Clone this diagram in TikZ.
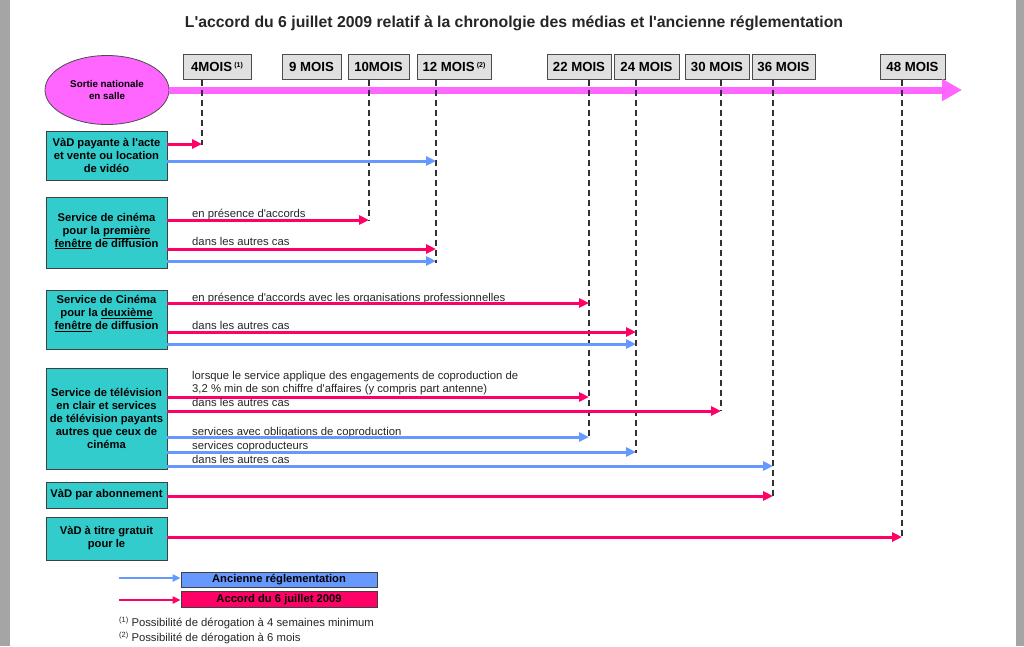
\documentclass[tikz,border=0pt]{standalone}
\usepackage{fontspec}
\setmainfont{Liberation Sans}[Ligatures=TeXOff]
\usetikzlibrary{arrows.meta,shapes.geometric}
\definecolor{tealbox}{RGB}{51,204,204}
\definecolor{redar}{RGB}{255,0,102}
\definecolor{bluear}{RGB}{102,153,255}
\definecolor{magline}{RGB}{255,102,255}
\definecolor{greybox}{RGB}{224,224,224}
\definecolor{framegrey}{RGB}{165,165,165}
\definecolor{dashc}{RGB}{50,50,50}
\begin{document}
\begin{tikzpicture}[x=1pt,y=-1pt,
  svc/.style={draw=black!75, line width=0.8pt, fill=tealbox, minimum width=121pt, inner sep=0pt},
  svctext/.style={font=\fontsize{11.2}{13}\selectfont\bfseries, align=center, inner sep=0pt},
  month/.style={draw=black!70, line width=0.8pt, fill=greybox, font=\fontsize{13.2}{15}\selectfont\bfseries, inner sep=0pt, minimum height=25pt},
  newrule/.style={draw=redar, line width=3pt, -{Triangle[length=10pt,width=9pt]}},
  oldrule/.style={draw=bluear, line width=3pt, -{Triangle[length=10pt,width=9pt]}},
  guide/.style={draw=dashc, line width=1.1pt, dash pattern=on 6pt off 4pt},
  lbl/.style={font=\fontsize{11.3}{13}\selectfont, anchor=base west, inner sep=0pt, text=black!85},
  legbox/.style={draw=black!75, line width=0.8pt, minimum width=196pt, inner sep=0pt, text height=8.5pt, text depth=2.5pt,
      font=\fontsize{11.2}{13}\selectfont\bfseries}
]
\useasboundingbox (0,0) rectangle (1024,646);
\fill[white] (0,0) rectangle (1024,646);
\fill[framegrey] (0,0) rectangle (10,646);
\fill[framegrey] (1016,0) rectangle (1024,646);

% title
\node[font=\fontsize{15.8}{18}\selectfont\bfseries, anchor=base, inner sep=0pt, text=black!85] (title) at (514,27)
  {L'accord du 6 juillet 2009 relatif à la chronolgie des médias et l'ancienne réglementation};

% month boxes
\newcommand{\fnmark}[1]{\,{\fontsize{7}{8}\selectfont\raisebox{4pt}{(#1)}}}
\node[month, minimum width=68pt] (m4)  at (217,66.5) {4MOIS\fnmark{1}};
\node[month, minimum width=59pt] (m9)  at (311.5,66.5) {9 MOIS};
\node[month, minimum width=61pt] (m10) at (378.5,66.5) {10MOIS};
\node[month, minimum width=74pt] (m12) at (454,66.5) {12 MOIS\fnmark{2}};
\node[month, minimum width=64pt] (m22) at (579,66.5) {22 MOIS};
\node[month, minimum width=65pt] (m24) at (646.5,66.5) {24 MOIS};
\node[month, minimum width=64pt] (m30) at (717,66.5) {30 MOIS};
\node[month, minimum width=63pt] (m36) at (783.5,66.5) {36 MOIS};
\node[month, minimum width=65pt] (m48) at (912.5,66.5) {48 MOIS};

% release ellipse and timeline
\node[ellipse, draw=black!70, line width=0.8pt, fill=magline, minimum width=124pt, minimum height=69pt, inner sep=0pt,
      font=\fontsize{9.8}{12}\selectfont\bfseries, align=center] (sortie) at (107,90) {Sortie nationale\\en salle};
\coordinate (tlend) at (962,90);
\draw[magline, line width=7pt, -{Triangle[length=20pt,width=21pt]}] (sortie.east) -- (tlend);

% service boxes
\node[svc, minimum height=49pt] (b1) at (106.5,155.5) {};
\node[svctext] at (b1) {VàD payante à l'acte\\et vente ou location\\de vidéo};
\node[svc, minimum height=71pt] (b2) at (106.5,232.5) {};
\node[svctext] at (106.5,231) {Service de cinéma\\pour la \underline{première}\\\underline{fenêtre} de diffusion};
\node[svc, minimum height=59pt] (b3) at (106.5,319.5) {};
\node[svctext] at (106.5,313.5) {Service de Cinéma\\pour la \underline{deuxième}\\\underline{fenêtre} de diffusion};
\node[svc, minimum height=101pt] (b4) at (106.5,418.5) {};
\node[svctext] at (106.5,418) {Service de télévision\\en clair et services\\de télévision payants\\autres que ceux de\\cinéma};
\node[svc, minimum height=26pt] (b5) at (106.5,495) {};
\node[svctext] at (b5) {VàD par abonnement};
\node[svc, minimum height=43pt] (b6) at (106.5,538.5) {};
\node[svctext] at (106.5,538) {VàD à titre gratuit\\pour le};

% guide line ends
\coordinate (t4) at (202,79.5);  \coordinate (e4) at (202,145);
\coordinate (t10) at (369,79.5); \coordinate (e10) at (369,221);
\coordinate (t12) at (436,79.5); \coordinate (e12) at (436,263);
\coordinate (t22) at (589,79.5); \coordinate (e22) at (589,438);
\coordinate (t24) at (636,79.5); \coordinate (e24) at (636,453);
\coordinate (t30) at (721,79.5); \coordinate (e30) at (721,411);
\coordinate (t36) at (773,79.5); \coordinate (e36) at (773,497);
\coordinate (t48) at (902,79.5); \coordinate (e48) at (902,537);
\foreach \m in {4,10,12,22,24,30,36,48} { \draw[guide] (t\m) -- (e\m); }

% arrows: box 1
\draw[newrule] (b1.east |- 0,144) -- (e4 |- 0,144);
\draw[oldrule] (b1.east |- 0,161) -- (e12 |- 0,161);
% box 2
\node[lbl] (l21) at (192,217) {en présence d'accords};
\draw[newrule] (b2.east |- 0,220) -- (e10 |- 0,220);
\node[lbl] (l22) at (192,245) {dans les autres cas};
\draw[newrule] (b2.east |- 0,249) -- (e12 |- 0,249);
\draw[oldrule] (b2.east |- 0,261) -- (e12 |- 0,261);
% box 3
\node[lbl] (l31) at (192,301) {en présence d'accords avec les organisations professionnelles};
\draw[newrule] (b3.east |- 0,303) -- (e22 |- 0,303);
\node[lbl] (l32) at (192,329) {dans les autres cas};
\draw[newrule] (b3.east |- 0,332) -- (e24 |- 0,332);
\draw[oldrule] (b3.east |- 0,344) -- (e24 |- 0,344);
% box 4
\node[lbl] (l41) at (192,379) {lorsque le service applique des engagements de coproduction de};
\node[lbl] (l42) at (192,392) {3,2 \% min de son chiffre d'affaires (y compris part antenne)};
\draw[newrule] (b4.east |- 0,397) -- (e22 |- 0,397);
\node[lbl] (l43) at (192,406) {dans les autres cas};
\draw[newrule] (b4.east |- 0,411) -- (e30 |- 0,411);
\node[lbl] (l44) at (192,435) {services avec obligations de coproduction};
\draw[oldrule] (b4.east |- 0,437) -- (e22 |- 0,437);
\node[lbl] (l45) at (192,449) {services coproducteurs};
\draw[oldrule] (b4.east |- 0,452) -- (e24 |- 0,452);
\node[lbl] (l46) at (192,463) {dans les autres cas};
\draw[oldrule] (b4.east |- 0,466) -- (e36 |- 0,466);
% box 5 and 6
\draw[newrule] (b5.east |- 0,496) -- (e36 |- 0,496);
\draw[newrule] (b6.east |- 0,537) -- (e48 |- 0,537);

% legend
\node[legbox, fill=bluear, minimum height=15pt] (lgold) at (279,579.5) {Ancienne réglementation};
\node[legbox, fill=redar, minimum height=16pt] (lgnew) at (279,599) {Accord du 6 juillet 2009};
\coordinate (lo) at (119,578);
\coordinate (ln) at (119,600);
\draw[draw=bluear, line width=2pt, -{Triangle[length=8pt,width=7pt]}] (lo) -- (lgold.west |- lo);
\draw[draw=redar, line width=2pt, -{Triangle[length=8pt,width=7pt]}] (ln) -- (lgnew.west |- ln);

% footnotes
\node[lbl] (fn1) at (119,626) {{\fontsize{7.5}{8}\selectfont\raisebox{4pt}{(1)}} Possibilité de dérogation à 4 semaines minimum};
\node[lbl] (fn2) at (119,641) {{\fontsize{7.5}{8}\selectfont\raisebox{4pt}{(2)}} Possibilité de dérogation à 6 mois};
\end{tikzpicture}
\end{document}
